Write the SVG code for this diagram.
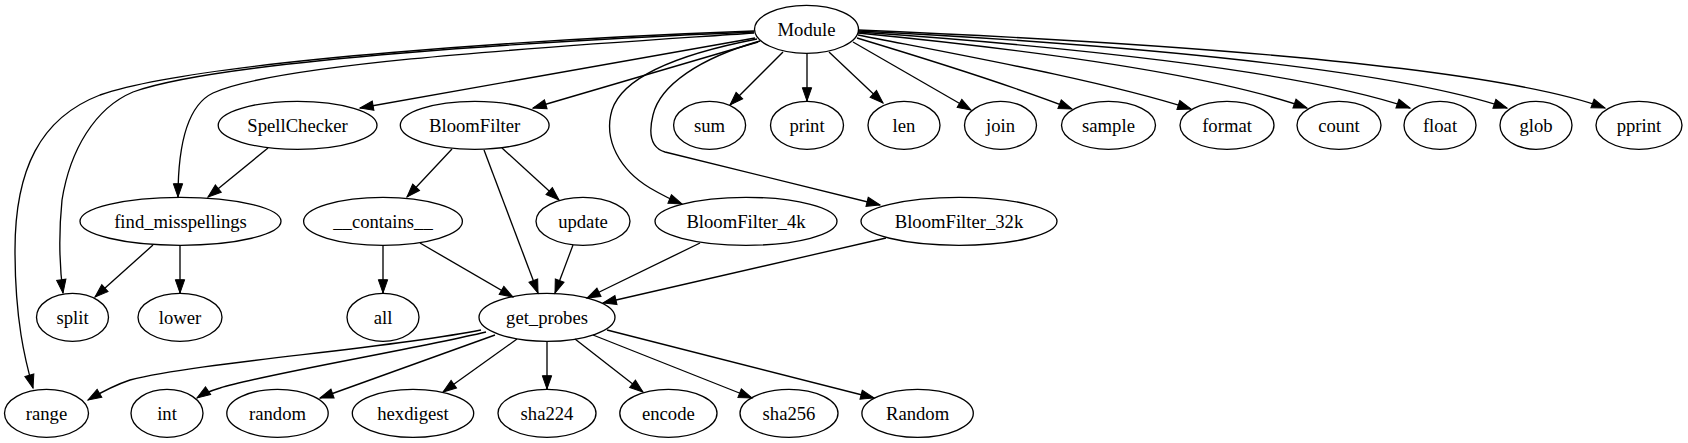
<svg xmlns="http://www.w3.org/2000/svg" width="1688" height="443" viewBox="0 0 1688 443">
<style>
.n ellipse{fill:none;stroke:#000;stroke-width:1.33}
.n text{font-family:"Liberation Serif","Times New Roman",serif;font-size:18.67px;text-anchor:middle;fill:#000}
#edges path{fill:none;stroke:#000;stroke-width:1.33;marker-end:url(#ah)}
</style>
<defs>
<marker id="ah" markerWidth="14" markerHeight="10" refX="13.3" refY="4.67" orient="auto" markerUnits="userSpaceOnUse" overflow="visible"><path d="M0,0 L13.3,4.67 L0,9.33 Z" fill="#000" stroke="#000" stroke-width="1"/></marker>
</defs>
<rect width="1688" height="443" fill="#fff"/>
<g id="edges">
<path d="M754,31 C560,38 200,60 100,95 C40,118 15,170 15,250 C15,320 25,360 33,388"/>
<path d="M754,32 C560,40 220,60 133,92 C95,108 70,150 62,200 C58,240 60,270 63,293"/>
<path d="M754,33 C580,45 280,62 213,93 C190,104 178,140 178,197"/>
<path d="M755,38 L360,108"/>
<path d="M758,42 L533,108"/>
<path d="M757,39 C700,50 625,70 612,110 C603,140 620,170 650,188 C662,195 672,200 682,204"/>
<path d="M760,41 C700,58 660,85 653,115 C648,135 652,148 665,152 L880,205"/>
<path d="M783,52 L730,105"/>
<path d="M807,53 L807,101"/>
<path d="M829,52 L883,103"/>
<path d="M853,42 L971,110"/>
<path d="M857,38 C930,60 1010,85 1072,109"/>
<path d="M858,35 C960,55 1100,80 1191,109"/>
<path d="M858,33 C980,45 1200,70 1307,108"/>
<path d="M858,32 C1050,45 1300,70 1410,108"/>
<path d="M858,31 C1080,42 1380,65 1507,108"/>
<path d="M858,30 C1100,40 1480,62 1605,108"/>
<path d="M268,148 L208,197"/>
<path d="M452,149 L407,197"/>
<path d="M484,150 L538,293"/>
<path d="M502,148 L559,200"/>
<path d="M153,245 L95,297"/>
<path d="M180,245 L180,293"/>
<path d="M383,245 L383,293"/>
<path d="M420,243 L513,297"/>
<path d="M573,245 L555,293"/>
<path d="M700,243 L587,298"/>
<path d="M886,238 L603,303"/>
<path d="M481,330 C380,350 200,362 130,380 C115,385 100,393 88,400"/>
<path d="M486,332 C410,350 260,375 220,388 C210,391 203,394 197,398"/>
<path d="M495,335 L320,398"/>
<path d="M517,339 L443,392"/>
<path d="M547,341 L547,389"/>
<path d="M575,339 L643,392"/>
<path d="M593,335 L752,398"/>
<path d="M607,330 L874,398"/>
</g>
<g id="Module" class="n"><ellipse cx="806.5" cy="29.3" rx="52" ry="24"/><text x="806.5" y="35.5">Module</text></g>
<g id="SpellChecker" class="n"><ellipse cx="297.6" cy="125.3" rx="79.4" ry="24"/><text x="297.6" y="131.5">SpellChecker</text></g>
<g id="BloomFilter" class="n"><ellipse cx="474.7" cy="125.3" rx="74.4" ry="24"/><text x="474.7" y="131.5">BloomFilter</text></g>
<g id="sum" class="n"><ellipse cx="709.6" cy="125.3" rx="36" ry="24"/><text x="709.6" y="131.5">sum</text></g>
<g id="print" class="n"><ellipse cx="807" cy="125.3" rx="36.5" ry="24"/><text x="807" y="131.5">print</text></g>
<g id="len" class="n"><ellipse cx="904" cy="125.3" rx="36" ry="24"/><text x="904" y="131.5">len</text></g>
<g id="join" class="n"><ellipse cx="1000.5" cy="125.3" rx="36" ry="24"/><text x="1000.5" y="131.5">join</text></g>
<g id="sample" class="n"><ellipse cx="1108.5" cy="125.3" rx="47" ry="24"/><text x="1108.5" y="131.5">sample</text></g>
<g id="format" class="n"><ellipse cx="1227" cy="125.3" rx="47" ry="24"/><text x="1227" y="131.5">format</text></g>
<g id="count" class="n"><ellipse cx="1339" cy="125.3" rx="42" ry="24"/><text x="1339" y="131.5">count</text></g>
<g id="float" class="n"><ellipse cx="1440" cy="125.3" rx="36" ry="24"/><text x="1440" y="131.5">float</text></g>
<g id="glob" class="n"><ellipse cx="1536" cy="125.3" rx="36" ry="24"/><text x="1536" y="131.5">glob</text></g>
<g id="pprint" class="n"><ellipse cx="1639" cy="125.3" rx="43" ry="24"/><text x="1639" y="131.5">pprint</text></g>
<g id="find_misspellings" class="n"><ellipse cx="180.5" cy="221.3" rx="100.5" ry="24"/><text x="180.5" y="227.5">find_misspellings</text></g>
<g id="__contains__" class="n"><ellipse cx="383" cy="221.3" rx="79.4" ry="24"/><text x="383" y="227.5">__contains__</text></g>
<g id="update" class="n"><ellipse cx="583" cy="221.3" rx="47" ry="24"/><text x="583" y="227.5">update</text></g>
<g id="BloomFilter_4k" class="n"><ellipse cx="746" cy="221.3" rx="91" ry="24"/><text x="746" y="227.5">BloomFilter_4k</text></g>
<g id="BloomFilter_32k" class="n"><ellipse cx="959" cy="221.3" rx="98" ry="24"/><text x="959" y="227.5">BloomFilter_32k</text></g>
<g id="split" class="n"><ellipse cx="72.5" cy="317.3" rx="36" ry="24"/><text x="72.5" y="323.5">split</text></g>
<g id="lower" class="n"><ellipse cx="180" cy="317.3" rx="42" ry="24"/><text x="180" y="323.5">lower</text></g>
<g id="all" class="n"><ellipse cx="383" cy="317.3" rx="36" ry="24"/><text x="383" y="323.5">all</text></g>
<g id="get_probes" class="n"><ellipse cx="547" cy="317.3" rx="68" ry="24"/><text x="547" y="323.5">get_probes</text></g>
<g id="range" class="n"><ellipse cx="46.5" cy="413.3" rx="42" ry="24"/><text x="46.5" y="419.5">range</text></g>
<g id="int" class="n"><ellipse cx="167" cy="413.3" rx="36" ry="24"/><text x="167" y="419.5">int</text></g>
<g id="random" class="n"><ellipse cx="277.5" cy="413.3" rx="50.7" ry="24"/><text x="277.5" y="419.5">random</text></g>
<g id="hexdigest" class="n"><ellipse cx="413" cy="413.3" rx="60.7" ry="24"/><text x="413" y="419.5">hexdigest</text></g>
<g id="sha224" class="n"><ellipse cx="547" cy="413.3" rx="49" ry="24"/><text x="547" y="419.5">sha224</text></g>
<g id="encode" class="n"><ellipse cx="668.4" cy="413.3" rx="48.6" ry="24"/><text x="668.4" y="419.5">encode</text></g>
<g id="sha256" class="n"><ellipse cx="789" cy="413.3" rx="49" ry="24"/><text x="789" y="419.5">sha256</text></g>
<g id="Random" class="n"><ellipse cx="917.6" cy="413.3" rx="55.7" ry="24"/><text x="917.6" y="419.5">Random</text></g>
</svg>
